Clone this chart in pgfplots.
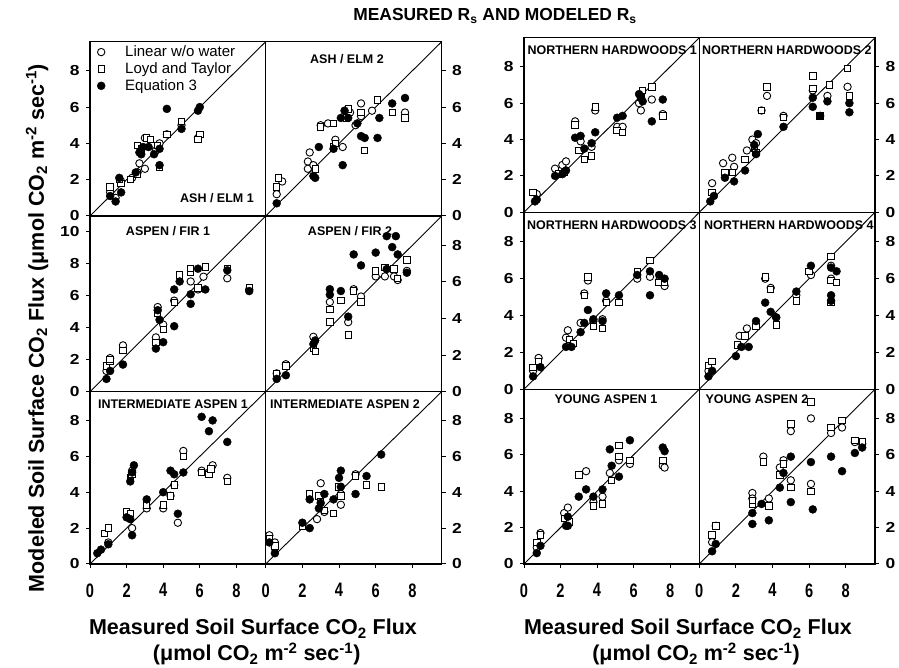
\documentclass[border=0pt]{standalone}
\usepackage{fontspec}
\setmainfont{Liberation Sans}
\newfontfamily\narrowfont[FakeStretch=0.75]{Liberation Sans}
\newfontfamily\widefont[FakeStretch=1.2]{Liberation Sans}
\usepackage{pgfplots}
\pgfplotsset{compat=1.18}
\pgfplotsset{
 lin/.style={only marks, mark=*, mark size=3.7pt, mark options={fill=white, draw=black, line width=0.9pt}},
 lt/.style={only marks, mark=square*, mark size=3.2pt, mark options={fill=white, draw=black, line width=0.9pt}},
 eq/.style={only marks, mark=*, mark size=4.0pt, mark options={fill=black, draw=black}},
 one/.style={black, line width=0.9pt, no marks, forget plot},
 panel/.style={scale only axis, anchor=south west, xmin=0, xmax=9.6, ymin=0, ymax=9.6,
   axis line style={line width=1.3pt}, xtick=\empty, ytick=\empty, tick align=outside,
   major tick length=4pt, tick style={line width=1pt, black}, clip=false,
   /pgf/number format/assume math mode=true,
   yticklabel style={font=\widefont\bfseries\fontsize{14.5}{14.5}\selectfont},
   xticklabel style={font=\narrowfont\bfseries\fontsize{19.5}{19.5}\selectfont, yshift=-12pt}},
 leftax/.style={ytick={0,2,4,6,8}, ytick pos=left, yticklabel style={xshift=-3pt}},
 rightax/.style={ytick={0,2,4,6,8}, ytick pos=right, yticklabel pos=right, yticklabel style={xshift=3pt}},
 botax/.style={xtick={0,2,4,6,8}, xtick pos=bottom},
}
\newcommand{\ptitle}{\bfseries\fontsize{12.5}{12.5}\selectfont}
\begin{document}
\begin{tikzpicture}
\path[use as bounding box] (0pt,0pt) rectangle (899pt,668pt);
% ---------------- LEFT BLOCK ----------------
% ASH / ELM 1
\begin{axis}[panel, at={(90pt,452pt)}, width=175.7pt, height=174.3pt, leftax,
  legend style={draw=none, fill=none, at={(0,1)}, anchor=north west, xshift=4pt, font=\fontsize{15}{15}\selectfont, row sep=0.5pt, column sep=18pt},
  legend cell align=left]
\addplot[one] coordinates {(0,0) (9.6,9.6)};
\addplot[lin] coordinates {(1.1,1.3) (1.4,1.0) (1.7,1.9) (2.3,2.1) (2.6,2.4) (2.7,2.9) (3.0,2.6) (3.0,4.3) (3.4,3.9) (3.6,3.6) (3.8,4.0) (4.2,4.5) (5.0,5.0) (5.9,4.3)};
\addlegendentry{Linear w/o water}
\addplot[lt] coordinates {(1.1,1.6) (1.7,1.8) (1.6,2.0) (2.2,2.0) (2.6,2.3) (2.6,3.9) (2.8,3.7) (3.1,4.3) (3.3,4.2) (3.7,3.9) (3.8,2.7) (4.2,4.5) (5.0,5.2) (6.0,4.5) (5.9,4.2)};
\addlegendentry{Loyd and Taylor}
\addplot[eq] coordinates {(1.1,1.1) (1.4,0.8) (1.6,2.1) (1.7,1.3) (2.5,2.4) (2.7,3.5) (2.8,3.4) (2.9,3.8) (3.2,3.8) (3.5,3.4) (3.8,3.7) (3.8,2.8) (4.2,5.9) (5.0,4.8) (5.9,5.8) (6.0,6.0)};
\addlegendentry{Equation 3}
\end{axis}
% ASH / ELM 2
\begin{axis}[panel, at={(265.7pt,452pt)}, width=176pt, height=174.3pt, rightax]
\addplot[one] coordinates {(0,0) (9.6,9.6)};
\addplot[lin] coordinates {(0.6,1.2) (0.9,1.9) (2.3,3.0) (2.3,2.6) (2.4,3.5) (2.6,2.8) (3.0,5.0) (3.4,5.1) (3.8,4.2) (4.2,3.8) (4.6,5.7) (4.9,5.0) (5.2,5.5) (5.2,6.2) (5.8,5.8) (7.6,5.7) (7.6,5.4)};
\addplot[lt] coordinates {(0.6,1.6) (0.7,2.1) (2.7,2.6) (3.0,4.9) (3.7,3.8) (3.8,4.0) (3.7,5.1) (4.4,5.4) (4.5,5.9) (5.2,5.7) (5.4,3.6) (6.1,6.4) (6.9,5.7) (7.6,5.4)};
\addplot[eq] coordinates {(0.6,0.7) (2.6,2.2) (2.7,2.1) (2.9,3.8) (3.7,3.7) (4.1,5.4) (4.3,5.8) (4.2,2.8) (4.5,5.4) (5.0,5.1) (5.2,4.4) (5.4,4.3) (6.2,5.4) (6.1,4.3) (6.9,6.2) (7.6,6.5)};
\end{axis}
% ASPEN / FIR 1
\begin{axis}[panel, at={(90pt,276.3pt)}, width=175.7pt, height=175.7pt, ymax=11, ytick={0,2,4,6,8,10}, ytick pos=left, yticklabel style={xshift=-3pt}]
\addplot[one] coordinates {(0,0) (9.6,11)};
\addplot[lin] coordinates {(0.9,1.3) (1.1,2.1) (1.8,2.9) (3.6,3.4) (3.7,5.3) (4.0,4.2) (4.6,5.7) (5.5,6.9) (5.9,6.4) (6.2,7.2) (7.5,7.1) (8.7,6.4)};
\addplot[lt] coordinates {(0.9,1.6) (1.1,1.9) (1.1,2.0) (1.8,2.6) (3.6,3.1) (3.7,4.9) (4.0,3.9) (4.6,5.6) (4.9,7.3) (5.5,7.5) (5.5,7.7) (5.9,6.5) (6.3,7.8) (7.5,7.7) (8.7,6.5)};
\addplot[eq] coordinates {(0.9,0.8) (1.1,1.3) (1.8,1.7) (3.6,2.7) (3.7,5.1) (3.8,4.5) (4.0,3.1) (4.6,4.1) (4.6,6.4) (4.9,6.9) (5.5,5.5) (5.5,6.1) (5.9,7.7) (6.3,6.4) (7.5,7.6) (8.7,6.3)};
\end{axis}
% ASPEN / FIR 2
\begin{axis}[panel, at={(265.7pt,276.3pt)}, width=176pt, height=175.7pt, rightax]
\addplot[one] coordinates {(0,0) (9.6,9.6)};
\addplot[lin] coordinates {(0.6,1.0) (1.1,1.5) (2.6,3.0) (3.5,4.9) (4.5,3.8) (4.8,5.6) (5.2,5.2) (6.0,6.3) (6.5,6.3) (7.0,6.3) (7.2,6.1) (7.7,6.6)};
\addplot[lt] coordinates {(0.6,1.0) (1.1,1.4) (2.6,2.4) (2.7,2.2) (3.5,4.5) (3.5,3.8) (4.1,5.0) (4.5,3.1) (4.8,5.5) (5.2,4.9) (6.0,6.6) (6.5,6.8) (7.0,6.7) (7.2,6.2) (7.7,7.2)};
\addplot[eq] coordinates {(0.6,0.7) (1.1,0.9) (2.7,2.8) (2.6,2.6) (3.5,5.6) (3.5,5.3) (4.1,5.5) (4.5,4.1) (4.8,7.5) (5.2,6.9) (6.0,7.6) (6.6,8.5) (6.9,7.9) (6.6,6.7) (7.1,8.5) (7.2,7.5) (7.7,6.5)};
\end{axis}
% INTERMEDIATE ASPEN 1
\begin{axis}[panel, at={(90pt,104pt)}, width=175.7pt, height=172.3pt, leftax, botax]
\addplot[one] coordinates {(0,0) (9.6,9.6)};
\addplot[lin] coordinates {(1.0,1.2) (2.3,2.0) (2.1,2.7) (2.3,5.2) (3.1,3.1) (4.0,3.1) (4.4,3.8) (4.6,4.4) (4.8,2.3) (5.1,6.3) (6.1,5.2) (6.5,5.1) (6.7,5.5) (7.5,4.8)};
\addplot[lt] coordinates {(0.8,1.7) (1.0,2.0) (2.0,2.9) (2.2,2.8) (2.2,4.8) (2.3,5.0) (3.1,3.3) (4.0,3.3) (4.4,3.8) (4.6,4.4) (5.1,6.0) (6.1,5.1) (6.5,5.0) (6.6,5.3) (7.5,4.6)};
\addplot[eq] coordinates {(0.4,0.6) (0.6,0.8) (1.0,1.1) (2.0,2.6) (2.2,2.5) (2.3,1.6) (2.4,5.5) (2.3,5.1) (2.2,4.6) (3.1,3.6) (4.0,4.0) (4.4,5.2) (4.6,5.0) (4.8,2.8) (5.1,5.1) (6.1,8.2) (6.5,7.4) (6.7,8.0) (7.5,6.8)};
\end{axis}
% INTERMEDIATE ASPEN 2
\begin{axis}[panel, at={(265.7pt,104pt)}, width=176pt, height=172.3pt, rightax, botax]
\addplot[one] coordinates {(0,0) (9.6,9.6)};
\addplot[lin] coordinates {(0.2,1.6) (0.5,1.2) (0.5,0.9) (2.8,2.5) (3.0,4.5) (3.2,2.9) (4.1,3.3) (4.1,3.9) (4.9,5.0)};
\addplot[lt] coordinates {(0.2,1.4) (0.5,1.0) (2.0,2.1) (2.4,3.9) (2.9,3.8) (3.0,3.5) (3.2,3.0) (3.7,2.8) (4.0,4.3) (4.1,3.8) (4.9,4.9) (5.5,4.4) (6.3,4.3)};
\addplot[eq] coordinates {(0.2,1.2) (0.5,0.6) (2.0,2.3) (2.4,2.0) (2.4,3.6) (2.9,3.1) (3.0,3.4) (3.2,3.9) (3.7,3.6) (4.0,4.8) (4.1,5.2) (4.1,4.3) (4.9,3.9) (5.5,4.9) (6.3,6.1)};
\end{axis}
% ---------------- RIGHT BLOCK ----------------
% NH1
\begin{axis}[panel, at={(524pt,455.7pt)}, width=175.3pt, height=174.6pt, leftax]
\addplot[one] coordinates {(0,0) (9.6,9.6)};
\addplot[lin] coordinates {(0.7,1.0) (1.7,2.4) (2.1,2.6) (2.3,2.8) (2.8,5.0) (3.1,3.9) (3.7,3.6) (3.9,5.6) (5.1,4.7) (5.4,4.7) (6.3,6.0) (6.4,5.6) (7.0,6.2) (7.6,5.4)};
\addplot[lt] coordinates {(0.5,1.1) (1.9,2.1) (2.2,2.2) (2.8,4.8) (3.0,3.4) (3.3,2.9) (3.7,3.1) (3.9,5.8) (5.1,4.5) (5.4,4.4) (6.5,6.7) (6.4,6.3) (7.0,6.9) (7.6,5.3)};
\addplot[eq] coordinates {(0.6,0.6) (0.7,0.7) (1.7,2.0) (2.1,2.1) (2.3,2.3) (2.8,4.1) (3.1,4.2) (3.3,3.5) (3.7,3.8) (3.9,4.4) (5.1,5.2) (5.4,5.3) (6.3,6.5) (6.4,6.3) (6.5,6.1) (7.0,5.0) (7.6,6.2)};
\end{axis}
% NH2
\begin{axis}[panel, at={(699.3pt,455.7pt)}, width=175.7pt, height=174.6pt, rightax]
\addplot[one] coordinates {(0,0) (9.6,9.6)};
\addplot[lin] coordinates {(0.7,1.6) (1.3,2.7) (1.8,3.0) (1.9,2.5) (2.6,3.4) (2.9,4.0) (3.1,3.8) (3.4,5.6) (3.7,6.4) (4.6,5.3) (6.2,6.7) (7.0,6.4) (8.1,6.9)};
\addplot[lt] coordinates {(0.7,1.1) (1.4,2.2) (1.8,2.2) (2.5,2.9) (3.0,3.5) (3.1,3.3) (3.4,5.6) (3.7,6.9) (4.6,5.2) (6.2,7.5) (6.2,6.8) (6.6,5.3) (7.1,7.0) (8.1,7.9) (8.2,6.4)};
\addplot[eq] coordinates {(0.6,0.6) (0.8,0.9) (1.4,1.9) (1.9,1.7) (2.5,2.3) (3.0,3.7) (3.1,3.2) (3.2,4.3) (4.6,4.7) (6.2,5.8) (6.2,6.3) (6.6,5.3) (7.0,6.1) (8.2,6.0) (8.2,5.5)};
\end{axis}
% NH3
\begin{axis}[panel, at={(524pt,278.7pt)}, width=175.3pt, height=177pt, leftax]
\addplot[one] coordinates {(0,0) (9.6,9.6)};
\addplot[lin] coordinates {(0.5,1.0) (0.8,1.7) (2.3,2.8) (2.4,3.2) (3.1,3.6) (3.3,5.2) (3.5,5.9) (3.8,3.7) (4.3,3.8) (4.5,4.8) (6.2,6.0) (6.9,6.1) (7.4,5.9) (7.7,5.6)};
\addplot[lt] coordinates {(0.5,1.2) (0.8,1.5) (2.5,2.7) (2.7,2.5) (3.3,5.1) (3.5,6.1) (3.8,3.4) (4.3,3.3) (4.5,4.7) (5.2,4.7) (6.2,6.4) (6.9,7.0) (7.4,5.8) (7.7,5.8)};
\addplot[eq] coordinates {(0.5,0.7) (0.9,1.2) (2.3,2.3) (2.6,2.3) (3.1,3.1) (3.3,3.6) (3.5,4.3) (3.8,3.8) (4.3,3.7) (4.5,5.2) (5.2,5.1) (6.2,6.2) (6.9,6.4) (6.9,5.1) (7.4,6.2) (7.7,6.0)};
\end{axis}
% NH4
\begin{axis}[panel, at={(699.3pt,278.7pt)}, width=175.7pt, height=177pt, rightax]
\addplot[one] coordinates {(0,0) (9.6,9.6)};
\addplot[lin] coordinates {(0.5,1.0) (2.2,2.9) (2.6,3.3) (3.6,6.0) (3.9,5.5) (4.2,3.9) (5.3,5.1) (6.1,6.2) (7.2,6.7) (7.2,6.0)};
\addplot[lt] coordinates {(0.5,1.3) (0.7,1.5) (2.1,2.4) (2.5,2.9) (3.1,3.4) (3.6,6.1) (3.9,5.4) (4.2,3.5) (5.3,4.8) (6.0,6.4) (7.2,7.2) (7.2,5.9) (7.2,4.7) (7.5,5.8)};
\addplot[eq] coordinates {(0.5,0.7) (0.7,1.0) (2.0,1.8) (2.3,2.3) (2.7,2.3) (3.1,3.7) (3.6,4.7) (3.9,4.2) (4.2,3.9) (5.3,5.3) (6.1,6.7) (7.2,6.6) (7.2,5.1) (7.2,4.8) (7.5,6.4)};
\end{axis}
% YOUNG ASPEN 1
\begin{axis}[panel, at={(524pt,104pt)}, width=175.3pt, height=174.7pt, leftax, botax]
\addplot[one] coordinates {(0,0) (9.6,9.6)};
\addplot[lin] coordinates {(0.7,0.9) (0.9,1.7) (2.2,2.8) (2.4,3.1) (3.4,5.1) (3.8,3.4) (4.3,3.7) (4.7,5.0) (5.2,5.7) (5.8,5.5) (7.6,5.4) (7.7,5.3)};
\addplot[lt] coordinates {(0.7,1.2) (0.9,1.6) (2.2,2.5) (2.5,2.3) (3.0,4.9) (3.8,3.2) (4.3,3.3) (4.8,4.6) (5.2,5.9) (5.2,6.5) (5.8,5.7) (7.6,5.7)};
\addplot[eq] coordinates {(0.7,0.6) (0.9,1.0) (2.3,2.1) (2.4,2.1) (2.4,2.6) (3.0,3.7) (3.4,4.1) (3.8,3.7) (4.3,4.1) (4.7,6.3) (4.8,5.4) (5.2,4.8) (5.8,6.8) (7.6,6.4) (7.7,6.2)};
\end{axis}
% YOUNG ASPEN 2
\begin{axis}[panel, at={(699.3pt,104pt)}, width=175.7pt, height=174.7pt, rightax, botax]
\addplot[one] coordinates {(0,0) (9.6,9.6)};
\addplot[lin] coordinates {(0.7,1.2) (0.9,2.1) (2.9,3.9) (2.9,3.6) (3.5,5.9) (3.8,3.6) (4.4,5.3) (4.6,5.7) (5.0,7.3) (5.0,4.6) (6.1,8.0) (6.1,4.4) (7.2,7.2) (7.8,7.5) (8.5,6.7) (8.9,6.6)};
\addplot[lt] coordinates {(0.7,1.6) (0.9,2.1) (2.9,3.3) (2.9,3.5) (3.5,5.6) (3.8,3.2) (4.4,4.9) (4.6,5.5) (5.0,7.7) (5.0,4.2) (6.1,8.9) (6.1,4.0) (7.2,7.5) (7.8,7.9) (8.5,6.8) (8.9,6.7)};
\addplot[eq] coordinates {(0.7,0.7) (0.9,1.1) (2.9,2.2) (2.9,2.8) (3.4,3.3) (3.8,2.4) (4.4,4.2) (4.6,5.0) (5.0,5.9) (5.0,3.4) (6.1,5.6) (6.2,3.0) (7.2,5.9) (7.8,5.1) (8.5,6.1) (8.9,6.4)};
\end{axis}
% ---------------- TEXT ----------------
\node[font=\ptitle] at (217pt,470pt) {ASH / ELM 1};
\node[font=\ptitle] at (347pt,609.3pt) {ASH / ELM 2};
\node[font=\ptitle] at (168pt,437.3pt) {ASPEN / FIR 1};
\node[font=\ptitle] at (350pt,437.3pt) {ASPEN / FIR 2};
\node[font=\ptitle] at (173pt,264pt) {INTERMEDIATE ASPEN 1};
\node[font=\ptitle] at (345pt,264pt) {INTERMEDIATE ASPEN 2};
\node[font=\ptitle, anchor=west, inner sep=0pt] at (527.3pt,618pt) {NORTHERN HARDWOODS 1};
\node[font=\ptitle, anchor=west, inner sep=0pt] at (702pt,618pt) {NORTHERN HARDWOODS 2};
\node[font=\ptitle, anchor=west, inner sep=0pt] at (527pt,443pt) {NORTHERN HARDWOODS 3};
\node[font=\ptitle, anchor=west, inner sep=0pt] at (704pt,443pt) {NORTHERN HARDWOODS 4};
\node[font=\ptitle] at (606pt,268.7pt) {YOUNG ASPEN 1};
\node[font=\ptitle] at (757pt,269pt) {YOUNG ASPEN 2};
\node[font=\bfseries\fontsize{17.4}{17.4}\selectfont, anchor=base] at (495pt,647.3pt) {MEASURED R\textsubscript{s} AND MODELED R\textsubscript{s}};
\node[font=\bfseries\fontsize{21.5}{22}\selectfont, rotate=90] at (37pt,340pt) {Modeled Soil Surface CO\textsubscript{2} Flux (μmol CO\textsubscript{2} m\textsuperscript{-2} sec\textsuperscript{-1})};
\node[font=\bfseries\fontsize{21.5}{22}\selectfont, anchor=base] at (253pt,33pt) {Measured Soil Surface CO\textsubscript{2} Flux};
\node[font=\bfseries\fontsize{21.5}{22}\selectfont, anchor=base] at (256.7pt,7pt) {(μmol CO\textsubscript{2} m\textsuperscript{-2} sec\textsuperscript{-1})};
\node[font=\bfseries\fontsize{21.5}{22}\selectfont, anchor=base] at (688pt,33pt) {Measured Soil Surface CO\textsubscript{2} Flux};
\node[font=\bfseries\fontsize{21.5}{22}\selectfont, anchor=base] at (696pt,7pt) {(μmol CO\textsubscript{2} m\textsuperscript{-2} sec\textsuperscript{-1})};
\end{tikzpicture}
\end{document}
